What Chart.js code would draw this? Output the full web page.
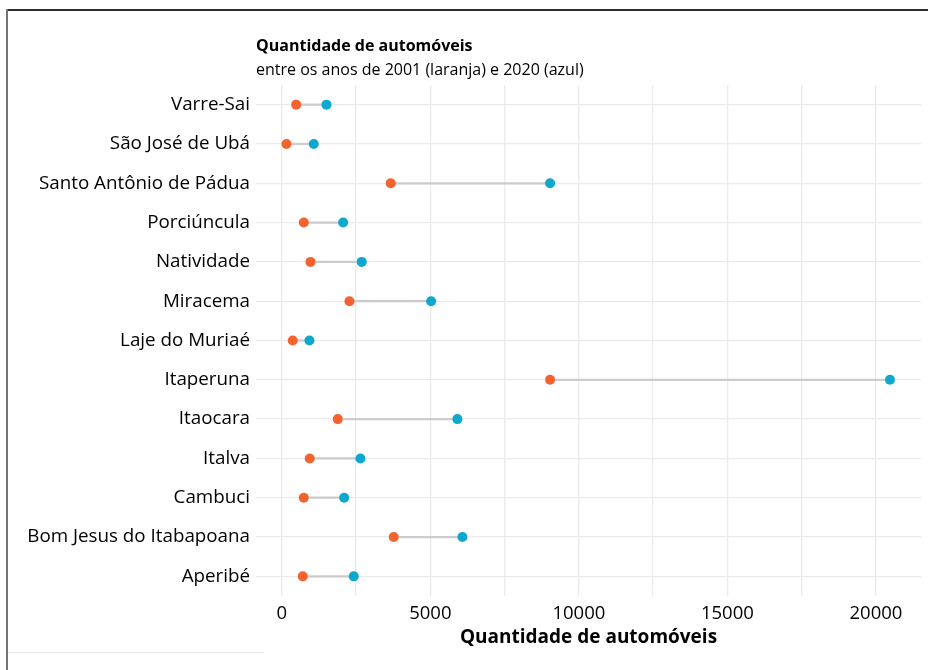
<!DOCTYPE html>
<html>
<head>
<meta charset="utf-8">
<script src="https://cdn.jsdelivr.net/npm/chart.js@4.4.1/dist/chart.umd.min.js"></script>
<style>
    html, body { margin: 0; padding: 0; background: #fff; }
    #wrap { position: relative; width: 928px; height: 670px; overflow: hidden; }
    #grafico { position: absolute; left: 0; top: 0; }
    .borda-topo { position: absolute; left: 6px; top: 9px; width: 922px; height: 2px; background: #2b2b2b; }
    .borda-esq { position: absolute; left: 6px; top: 9px; width: 2px; height: 661px; background: #747474; }
    .linha-base { position: absolute; left: 8px; top: 652px; width: 256px; height: 1px; background: #e6e6e6; }
</style>
</head>
<body>
<div id="wrap">
    <canvas id="grafico" width="928" height="670"></canvas>
    <div class="borda-topo"></div>
    <div class="borda-esq"></div>
    <div class="linha-base"></div>
</div>
<script>
const municipios = [
    "Varre-Sai", "São José de Ubá", "Santo Antônio de Pádua", "Porciúncula",
    "Natividade", "Miracema", "Laje do Muriaé", "Itaperuna", "Itaocara",
    "Italva", "Cambuci", "Bom Jesus do Itabapoana", "Aperibé"
];
const autos2001 = [484, 158, 3668, 741, 966, 2278, 370, 9031, 1885, 942, 741, 3769, 707];
const autos2020 = [1505, 1077, 9031, 2066, 2692, 5027, 932, 20472, 5912, 2648, 2100, 6081, 2423];
// linhas de grade (a cada 2500) e rótulos (a cada 5000)
const gradeX = [0, 2500, 5000, 7500, 10000, 12500, 15000, 17500, 20000];
const ticksX = [0, 5000, 10000, 15000, 20000];

const fonte = "'Open Sans', 'Noto Sans', sans-serif";

// segmento cinza entre 2001 e 2020
const segmentos = autos2001.map((v, i) => [v, autos2020[i]]);

const ctx = document.getElementById("grafico").getContext("2d");
const grafico = new Chart(ctx, {
    type: "bar",
    data: {
        labels: municipios,
        datasets: [
            {
                type: "line",
                label: "2001",
                indexAxis: "y",
                data: autos2001,
                showLine: false,
                pointRadius: 5,
                pointBorderWidth: 0,
                pointBackgroundColor: "#f4622d",
                order: 1
            },
            {
                type: "line",
                label: "2020",
                indexAxis: "y",
                data: autos2020,
                showLine: false,
                pointRadius: 5,
                pointBorderWidth: 0,
                pointBackgroundColor: "#0ea8cf",
                order: 2
            },
            {
                type: "bar",
                label: "intervalo",
                indexAxis: "y",
                data: segmentos,
                backgroundColor: "#cccccc",
                barThickness: 1.6,
                order: 3
            }
        ]
    },
    options: {
        responsive: false,
        animation: false,
        indexAxis: "y",
        layout: { padding: { left: 8, right: 7, top: 0, bottom: 0 } },
        plugins: {
            legend: { display: false },
            tooltip: { enabled: false },
            title: {
                display: true,
                text: "Quantidade de automóveis",
                align: "start",
                fullSize: false,
                color: "#000",
                font: { family: fonte, size: 16, weight: "bold", lineHeight: 1.2 },
                padding: { top: 36.4, bottom: 4.8 }
            },
            subtitle: {
                display: true,
                text: "entre os anos de 2001 (laranja) e 2020 (azul)",
                align: "start",
                fullSize: false,
                color: "#000",
                font: { family: fonte, size: 16, lineHeight: 1.2 },
                padding: { top: 0, bottom: 5.4 }
            }
        },
        scales: {
            x: {
                type: "linear",
                min: -867,
                max: 21517,
                border: { display: false },
                grid: { color: "#ebebeb", lineWidth: 1.3, drawTicks: false },
                afterBuildTicks: axis => {
                    axis.ticks = gradeX.map(v => ({ value: v }));
                },
                ticks: {
                    autoSkip: false,
                    maxRotation: 0,
                    padding: 7,
                    color: "#000",
                    font: { family: fonte, size: 18.5 },
                    callback: value => ticksX.includes(value) ? String(value) : ""
                },
                title: {
                    display: true,
                    text: "Quantidade de automóveis",
                    color: "#000",
                    font: { family: fonte, size: 19, weight: "bold", lineHeight: 1.2 },
                    padding: { top: 0, bottom: 21 }
                },
                afterFit: scale => { scale.height = 74; }
            },
            y: {
                type: "category",
                offset: true,
                border: { display: false },
                grid: { color: "#ebebeb", lineWidth: 1.3, drawTicks: false, offset: false },
                ticks: {
                    padding: 6,
                    color: "#000",
                    font: { family: fonte, size: 18.8 }
                },
                afterFit: scale => { scale.width = 248; }
            }
        }
    }
});
</script>
</body>
</html>
